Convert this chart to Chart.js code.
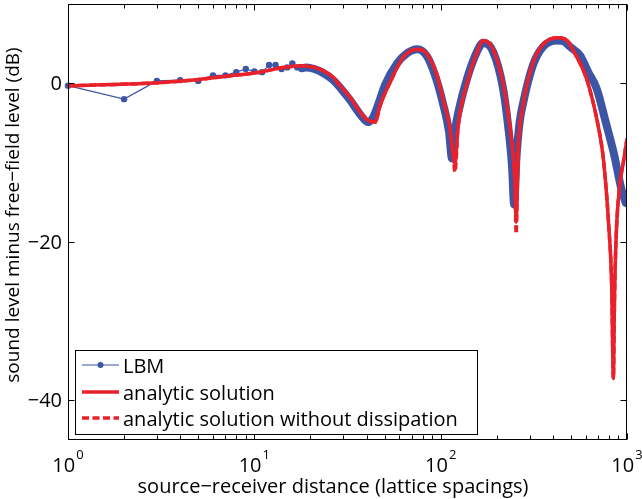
<!DOCTYPE html>
<html>
<head>
<meta charset="utf-8">
<script src="https://cdn.jsdelivr.net/npm/chart.js@4"></script>
<style>
    body { margin: 0; background: #fff; }
    #wrap { width: 642px; height: 499px; }
</style>
</head>
<body>
<div id="wrap"><canvas id="chart" width="642" height="499"></canvas></div>
<script>
// LBM simulation (integer distances near the source)
const lbmX = [1, 2, 3, 4, 5, 6, 7, 8, 9, 10, 11, 12, 13, 14, 15, 16, 17, 18, 19,
    21, 23.4, 26.5, 29, 32.6, 36.9, 40.8, 43.4, 47.3, 50.3,
    58.3, 66, 75, 84.5, 93.3, 103, 111, 115, 119.4, 124,
    138.6, 156.8, 168.9, 191, 216, 231, 241.6, 248, 255, 265,
    277, 313, 354, 421, 456, 495, 560, 620, 688, 769,
    853, 930, 985];
const lbmY = [-0.3, -2.0, 0.3, 0.4, 0.3, 1.0, 1.0, 1.4, 1.8, 1.5, 1.4, 2.3, 2.3, 1.8, 2.0, 2.5, 2.0, 1.9, 2.0,
    1.8, 1.3, 0.4, -0.6, -2.1, -3.9, -4.9, -4.3, -2.0, -0.2,
    2.5, 3.8, 4.3, 3.4, 1.0, -2.6, -6.2, -9.5, -6.0, -3.8,
    0.6, 4.0, 5.1, 4.0, -0.6, -5.7, -10.5, -15.3, -9.5, -5.0,
    -2.5, 2.3, 4.6, 5.4, 5.3, 4.6, 3.5, 1.4, -0.7, -4.9,
    -9.0, -13.2, -15.1];
// index where the LBM points merge into a dense band
const lbmBandStart = 17;

// analytic solution
const analyticX = [1, 2.1, 3.2, 4.7, 7.1, 10.7, 14.3, 18.2, 21, 23.4,
    26.5, 28.8, 32.6, 36.9, 40.3, 44.5, 47.3, 53.5, 62.8, 74.7,
    84.5, 95.6, 103, 112.3, 116.6, 119.4, 124, 138.6, 156.8, 168.9,
    191, 216, 235.8, 250.8, 254, 260, 276.9, 313.3, 354.5, 421.5,
    477, 515.7, 608, 694, 742, 772, 795, 828, 845, 856,
    874, 911, 957, 1000];
const analyticY = [-0.3, -0.1, 0.1, 0.4, 0.9, 1.4, 2.0, 2.2, 2.0, 1.6,
    0.75, -0.3, -1.75, -3.6, -4.6, -4.9, -2.8, 0.1, 3.25, 4.3,
    3.7, 1.0, -2.0, -5.7, -9.0, -10.2, -5.5, 0, 3.9, 5.4,
    4.3, 0.1, -5.7, -13, -17.5, -9, -2.8, 2.6, 4.9, 5.75,
    5.4, 4.1, 0.5, -4.9, -9.0, -13.2, -17.4, -25.7, -37.2, -27.8,
    -19.5, -13.2, -9.9, -7.0];

// analytic solution without dissipation (same x as analytic, deeper notches)
const noDissY = [-0.3, -0.1, 0.1, 0.4, 0.9, 1.4, 2.0, 2.2, 2.0, 1.6,
    0.75, -0.3, -1.75, -3.6, -4.6, -4.9, -2.8, 0.1, 3.25, 4.3,
    3.7, 1.0, -2.0, -5.7, -9.0, -11.2, -5.5, 0, 3.9, 5.4,
    4.3, 0.1, -5.7, -13, -19.0, -9, -2.8, 2.6, 4.9, 5.75,
    5.4, 4.1, 0.5, -4.9, -9.0, -13.2, -17.4, -25.7, -37.2, -27.8,
    -19.5, -13.2, -9.9, -7.0];

// ticks and labels
const xMajorTicks = [1, 10, 100, 1000];
const xTickExponents = ['0', '1', '2', '3'];
const yTicks = [-40, -20, 0];
const yTickLabels = ['\u221240', '\u221220', '0'];
const legendLabels = ['LBM', 'analytic solution', 'analytic solution without dissipation'];
const xTitle = 'source\u2212receiver distance (lattice spacings)';
const yTitle = 'sound level minus free\u2212field level (dB)';

const BLUE = '#3d55a5';
const RED = '#e8212b';
const FONT = '"Open Sans", "DejaVu Sans", sans-serif';

function toPoints(xs, ys) {
    return xs.map((x, i) => ({ x: x, y: ys[i] }));
}

// frame, inward ticks, tick labels, titles and legend
const decorations = {
    id: 'decorations',
    afterDraw(chart) {
        const ctx = chart.ctx;
        const a = chart.chartArea;
        const xs = chart.scales.x;
        const ys = chart.scales.y;
        const L = Math.round(a.left) + 0.5, R = Math.round(a.right) - 0.5;
        const T = Math.round(a.top) + 0.5, B = Math.round(a.bottom) - 0.5;

        ctx.save();
        ctx.strokeStyle = '#000';
        ctx.lineWidth = 1;
        ctx.strokeRect(L, T, R - L, B - T);

        ctx.beginPath();
        // x ticks, major and minor, bottom and top
        for (let d = 1; d <= 1000; d *= 10) {
            for (let k = 1; k <= 9; k++) {
                const v = k * d;
                if (v > 1000) break;
                const px = Math.round(xs.getPixelForValue(v)) + 0.5;
                const len = k === 1 ? 6 : 4;
                ctx.moveTo(px, B); ctx.lineTo(px, B - len);
                ctx.moveTo(px, T); ctx.lineTo(px, T + len);
            }
        }
        // y ticks left and right
        yTicks.forEach(v => {
            const py = Math.round(ys.getPixelForValue(v)) + 0.5;
            ctx.moveTo(L, py); ctx.lineTo(L + 6, py);
            ctx.moveTo(R, py); ctx.lineTo(R - 6, py);
        });
        ctx.stroke();

        ctx.fillStyle = '#000';
        // y tick labels
        ctx.font = '20px ' + FONT;
        ctx.textAlign = 'right';
        ctx.textBaseline = 'middle';
        yTicks.forEach((v, i) => {
            ctx.fillText(yTickLabels[i], a.left - 6, ys.getPixelForValue(v) + 1);
        });

        // x tick labels 10^n
        ctx.textAlign = 'left';
        ctx.textBaseline = 'alphabetic';
        xMajorTicks.forEach((v, i) => {
            ctx.font = '20px ' + FONT;
            const wBase = ctx.measureText('10').width;
            ctx.font = '13px ' + FONT;
            const wExp = ctx.measureText(xTickExponents[i]).width;
            const start = xs.getPixelForValue(v) - (wBase + 1 + wExp) / 2;
            ctx.font = '20px ' + FONT;
            ctx.fillText('10', start, 472);
            ctx.font = '13px ' + FONT;
            ctx.fillText(xTickExponents[i], start + wBase + 1, 459);
        });

        // axis titles
        ctx.font = '20px ' + FONT;
        ctx.textAlign = 'center';
        ctx.fillText(xTitle, 333, 493);
        ctx.font = '19px ' + FONT;
        ctx.save();
        ctx.translate(19, 215);
        ctx.rotate(-Math.PI / 2);
        ctx.fillText(yTitle, 0, 0);
        ctx.restore();

        // legend box
        ctx.fillStyle = '#fff';
        ctx.fillRect(75.5, 350.5, 402, 84);
        ctx.strokeRect(75.5, 350.5, 402, 84);

        const rows = [365, 392, 418];
        // LBM sample
        ctx.strokeStyle = BLUE;
        ctx.lineWidth = 1.2;
        ctx.beginPath(); ctx.moveTo(82, rows[0]); ctx.lineTo(119, rows[0]); ctx.stroke();
        ctx.fillStyle = BLUE;
        ctx.beginPath(); ctx.arc(100.5, rows[0], 3, 0, Math.PI * 2); ctx.fill();
        // analytic sample
        ctx.strokeStyle = RED;
        ctx.lineWidth = 3.5;
        ctx.beginPath(); ctx.moveTo(82, rows[1]); ctx.lineTo(119, rows[1]); ctx.stroke();
        // no-dissipation sample
        ctx.setLineDash([7, 3.5]);
        ctx.beginPath(); ctx.moveTo(82, rows[2]); ctx.lineTo(119, rows[2]); ctx.stroke();
        ctx.setLineDash([]);

        ctx.fillStyle = '#000';
        ctx.font = '20px ' + FONT;
        ctx.textAlign = 'left';
        ctx.textBaseline = 'alphabetic';
        legendLabels.forEach((t, i) => ctx.fillText(t, 123, rows[i] + 8));
        ctx.restore();
    }
};

const ctx = document.getElementById('chart').getContext('2d');
const chart = new Chart(ctx, {
    type: 'line',
    data: {
        datasets: [
            {
                label: legendLabels[1],
                data: toPoints(analyticX, analyticY),
                borderColor: RED,
                borderWidth: 3.5,
                pointRadius: 0,
                cubicInterpolationMode: 'monotone',
                borderJoinStyle: 'round',
                order: 1
            },
            {
                label: legendLabels[2],
                data: toPoints(analyticX, noDissY),
                borderColor: RED,
                borderWidth: 3.5,
                borderDash: [7, 3.5],
                pointRadius: 0,
                cubicInterpolationMode: 'monotone',
                order: 2
            },
            {
                // LBM, single points near the source
                label: legendLabels[0],
                data: toPoints(lbmX.slice(0, lbmBandStart + 2), lbmY.slice(0, lbmBandStart + 2)),
                borderColor: BLUE,
                borderWidth: 1.2,
                pointBackgroundColor: BLUE,
                pointBorderWidth: 0,
                pointRadius: 3.2,
                tension: 0,
                clip: { left: 5, right: 0, top: 0, bottom: 0 },
                order: 3
            },
            {
                // LBM, dense band further out
                label: legendLabels[0],
                data: toPoints(lbmX.slice(lbmBandStart), lbmY.slice(lbmBandStart)),
                borderColor: BLUE,
                borderWidth: 8,
                pointRadius: 0,
                cubicInterpolationMode: 'monotone',
                borderJoinStyle: 'round',
                borderCapStyle: 'round',
                order: 4
            }
        ]
    },
    options: {
        responsive: false,
        animation: false,
        layout: { padding: { left: 68, right: 15, top: 1, bottom: 59 } },
        plugins: { legend: { display: false }, tooltip: { enabled: false } },
        scales: {
            x: { type: 'logarithmic', min: 1, max: 1000, display: false },
            y: { type: 'linear', min: -45, max: 10, display: false }
        }
    },
    plugins: [decorations]
});
</script>
</body>
</html>
